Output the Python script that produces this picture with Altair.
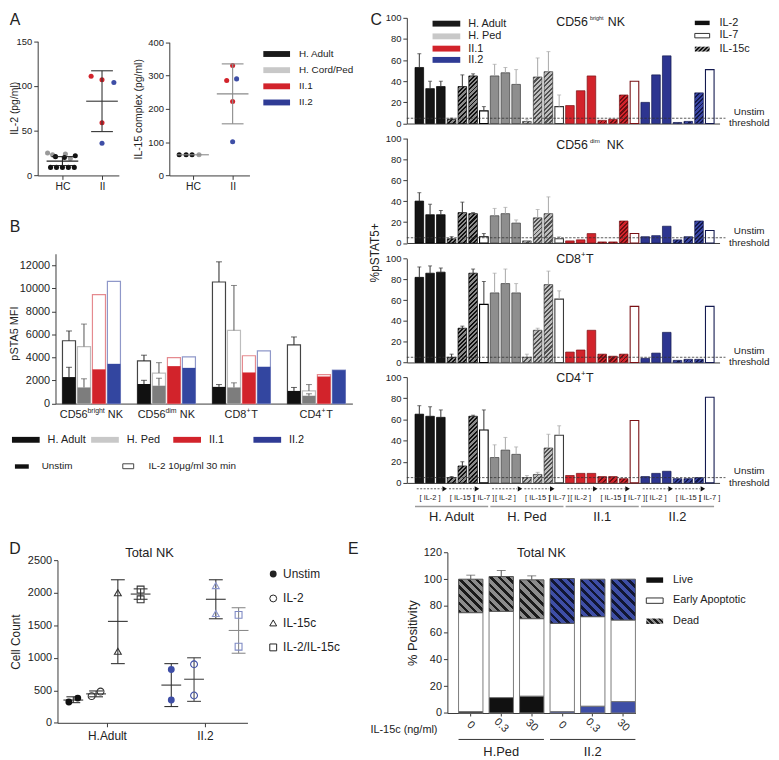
import altair as alt
import pandas as pd

FONT = "Liberation Sans"
W, H = 771, 752
INK = "#222222"
AX = "#3a3a3a"
YS = H / 760.0


def X(px):
    return px - 8


def Y(py):
    return py * YS


DUMMY = pd.DataFrame({"k": [0]})

# =========================== DATA ===========================
# ---- A : cytokine levels
A_IL2_HC_ADULT = [9, 9, 9, 9, 9, 21, 20, 22]
A_IL2_HC_PED = [25, 23, 24, 19]
A_IL2_II1 = [111, 107, 59]
A_IL2_II2 = [104, 36]
A_IL2_MEAN = [16, 83]
A_IL2_SD = [5, 34]

A_IL15_HC_ADULT = [62, 62, 62]
A_IL15_HC_PED = [62]
A_IL15_II1 = [330, 285, 222]
A_IL15_II2 = [290, 101]
A_IL15_MEAN = [62, 245]
A_IL15_SD = [0, 90]
A_LEGEND = ["H. Adult", "H. Cord/Ped", "II.1", "II.2"]

# ---- B : pSTA5 MFI
B_CELLS = ["CD56bright NK", "CD56dim NK", "CD8+T", "CD4+T"]
B_DONORS = ["H. Adult", "H. Ped", "II.1", "II.2"]
B_UNSTIM = {"H. Adult": [2300, 1700, 1450, 1100], "H. Ped": [1400, 1550, 1400, 680],
            "II.1": [2970, 3250, 2700, 2350], "II.2": [3450, 3100, 3200, 2900]}
B_IL2 = {"H. Adult": [5450, 3700, 10550, 5100], "H. Ped": [4950, 2650, 6350, 1100],
         "II.1": [9450, 3980, 4150, 2520], "II.2": [10600, 4050, 4580, 2900]}
B_IL2_ERR = {"H. Adult": [6300, 4200, 12300, 5780], "H. Ped": [6900, 3550, 10250, 1650]}
B_UNSTIM_ERR = {"H. Adult": [3150, 2020, 1650, 1400], "H. Ped": [2150, 2200, 1800, 850]}

# ---- C : %pSTAT5+
C_DONORS = ["H. Adult", "H. Ped", "II.1", "II.2"]
C_STIMS = ["IL-2", "IL-2", "IL-2", "IL-15", "IL-15", "IL-15", "IL-7"]
C_CD56BR = [53, 33, 35, 4, 35, 45, 12, 45, 48, 37, 2, 44, 49, 16,
            17, 31, 45, 3, 4, 27, 40, 20, 46, 64, 1, 2, 29, 51]
C_CD56BR_ERR = [66, 40, 40, 5, 46, 47, 16, 56, 53, 51, 4, 62, 68, 27]
C_CD56DIM = [40, 27, 27, 4, 29, 28, 6, 26, 28, 19, 2, 24, 28, 4,
             2, 3, 9, 1, 1, 21, 9, 6, 7, 16, 3, 6, 21, 12]
C_CD56DIM_ERR = [48, 37, 31, 6, 39, 29, 9, 33, 34, 22, 2, 32, 44, 6]
C_CD8 = [82, 86, 87, 5, 33, 86, 56, 67, 76, 67, 5, 31, 75, 61,
         10, 12, 31, 8, 6, 8, 54, 4, 9, 29, 2, 3, 3, 54]
C_CD8_ERR = [92, 93, 91, 8, 35, 90, 78, 86, 90, 76, 8, 33, 88, 69]
C_CD4 = [65, 63, 62, 5, 16, 63, 50, 24, 31, 27, 5, 8, 33, 45,
         7, 9, 9, 6, 6, 4, 59, 6, 9, 11, 4, 4, 5, 81]
C_CD4_ERR = [73, 72, 69, 6, 20, 64, 69, 36, 43, 34, 7, 10, 46, 54]
C_THRESHOLD = 5
C_BRACKETS = ["[ IL-2 ]", "[ IL-15 ]", "[ IL-7 ]"]

# ---- D : cell counts
D_GROUPS = ["H.Adult", "II.2"]
D_CONDS = ["Unstim", "IL-2", "IL-15c", "IL-2/IL-15c"]
D_ADULT = [[320, 380], [410, 480], [1100, 2000], [1900, 2050]]
D_II2 = [[350, 820], [420, 900], [1680, 2110], [1170, 1660]]
D_ADULT_MEAN = [350, 445, 1560, 1980]
D_ADULT_LO = [310, 400, 910, 1900]
D_ADULT_HI = [400, 490, 2200, 2060]
D_II2_MEAN = [580, 670, 1900, 1420]
D_II2_LO = [250, 330, 1600, 1070]
D_II2_HI = [910, 1000, 2200, 1770]

# ---- E : viability
E_DONORS = ["H.Ped", "II.2"]
E_DOSES = ["0", "0.3", "30"]
E_PED_LIVE = [1, 11.5, 12.5]
E_PED_EARLY_TOP = [75, 76, 70.5]
E_PED_DEAD_TOP = [100, 102, 99.5]
E_PED_ERR = [103, 106.5, 102.5]
E_II2_LIVE = [1, 5, 8.5]
E_II2_EARLY_TOP = [67, 72, 69.5]
E_II2_DEAD_TOP = [100.5, 100, 100]

# =========================== HELPERS ===========================
layers = []


def T(s, px, py, size=11, align="center", angle=0, color=INK, baseline="middle"):
    return alt.Chart(DUMMY).mark_text(text=s, font=FONT, fontSize=size, align=align, baseline=baseline,
                                      angle=angle, color=color).encode(x=alt.value(X(px)), y=alt.value(Y(py)))


def R(px0, px1, py0, py1, fill, stroke=None, sw=1.0):
    kw = {"fill": fill}
    if stroke:
        kw.update(stroke=stroke, strokeWidth=sw)
    else:
        kw.update(strokeWidth=0)
    return alt.Chart(DUMMY).mark_rect(**kw).encode(x=alt.value(X(px0)), x2=alt.value(X(px1)),
                                                  y=alt.value(Y(py0)), y2=alt.value(Y(py1)))


def hatch(ca, cb, w, h, period, frac=0.5, back=False):
    w = max(float(w), 1.0)
    h = max(float(h), 1.0)
    k = (w + h) / (w * w + h * h)
    n = max(1, int(round((w + h) / (1.4142 * period))))
    stops = []
    for i in range(n):
        o0, o1, o2 = i / n, (i + frac) / n, (i + 1) / n
        stops += [alt.GradientStop(color=ca, offset=o0), alt.GradientStop(color=ca, offset=o1),
                  alt.GradientStop(color=cb, offset=o1), alt.GradientStop(color=cb, offset=o2)]
    if back:
        return alt.LinearGradient(gradient="linear", stops=stops, x1=0, y1=1, x2=k * w, y2=1 - k * h)
    return alt.LinearGradient(gradient="linear", stops=stops, x1=0, y1=0, x2=k * w, y2=k * h)


def yax(at_px, values, size=11, title=None, tsize=11, tpad=4, tcx=None, tcy=None, fmt=None):
    d = dict(orient="left", offset=-X(at_px), values=values, title=title, labelFontSize=size,
             titleFontSize=tsize, titlePadding=tpad, tickSize=4, labelPadding=2)
    if tcx is not None:
        d.update(titleX=X(tcx) - X(at_px), titleY=Y(tcy), titleBaseline="middle", titleAlign="center")
    if fmt:
        d.update(format=fmt)
    return alt.Axis(**d)


def xax(at_py, **kw):
    d = dict(orient="bottom", offset=Y(at_py) - H, title=None, tickSize=4, labelPadding=2)
    d.update(kw)
    return alt.Axis(**d)


# =========================== PANEL A ===========================
def dot_panel(x0, x1, zero_py, top_py, ymax, yvals, ytitle, tpad, centers, labels, series, summaries,
              cap=11, half=16, tcx=None, tcy=None):
    xs = alt.Scale(domain=[0, x1 - x0], range=[X(x0), X(x1)], nice=False, zero=False)
    ys = alt.Scale(domain=[0, ymax], range=[Y(zero_py), Y(top_py)], nice=False)
    expr = f"datum.value == {centers[0]} ? '{labels[0]}' : '{labels[1]}'"
    xa = xax(zero_py, values=centers, labelExpr=expr, labelFontSize=10.5)
    ya = yax(x0, yvals, size=9.5, title=ytitle, tsize=10.5, tpad=tpad, tcx=tcx, tcy=tcy)
    subs = []
    for vals, jit, ci, col in series:
        df = pd.DataFrame({"x": [centers[ci] + j for j in jit], "v": vals})
        subs.append(alt.Chart(df).mark_circle(size=26, color=col, opacity=1).encode(
            x=alt.X("x:Q", scale=xs, axis=xa), y=alt.Y("v:Q", scale=ys, axis=ya)))
    for m, sd, ci, col in summaries:
        c = centers[ci]
        df = pd.DataFrame({"c": [c], "m": [m], "lo": [m - sd], "hi": [m + sd], "cl": [c - cap],
                           "cr": [c + cap], "ml": [c - half], "mr": [c + half]})
        b = alt.Chart(df)
        subs.append(b.mark_rule(color=col, strokeWidth=1.1).encode(
            x=alt.X("ml:Q", scale=xs, axis=xa), x2="mr:Q", y=alt.Y("m:Q", scale=ys, axis=ya)))
        if sd > 0:
            subs.append(b.mark_rule(color=col, strokeWidth=1.1).encode(
                x=alt.X("c:Q", scale=xs, axis=xa), y=alt.Y("lo:Q", scale=ys, axis=ya), y2="hi:Q"))
            for yy in ["lo", "hi"]:
                subs.append(b.mark_rule(color=col, strokeWidth=1.1).encode(
                    x=alt.X("cl:Q", scale=xs, axis=xa), x2="cr:Q", y=alt.Y(yy + ":Q", scale=ys, axis=ya)))
    return alt.layer(*subs)


RED = "#d2232b"
BLUE = "#2f3b95"
BLUE_PT = "#3e4ea6"

layers.append(dot_panel(
    38, 120, 167, 30, 150, [0, 50, 100, 150], "IL-2 (pg/ml)", 5, [25, 65], ["HC", "II"],
    [(A_IL2_HC_PED, [-15, -10, 3, 8], 0, "#9a9a9a"),
     (A_IL2_HC_ADULT, [-12, -6, 0, 6, 12, -7, 2, 13], 0, "#111111"),
     (A_IL2_II1, [-11, 0, 0], 1, RED),
     (A_IL2_II2, [12, 0], 1, BLUE_PT)],
    [(A_IL2_MEAN[0], A_IL2_SD[0], 0, "#222222"), (A_IL2_MEAN[1], A_IL2_SD[1], 1, "#333333")],
    tcx=15, tcy=98))

layers.append(dot_panel(
    171, 252, 167, 31, 400, [0, 100, 200, 300, 400], "IL-15 complex (pg/ml)", 4, [24, 64], ["HC", "II"],
    [(A_IL15_HC_ADULT, [-14, -7, -1], 0, "#111111"),
     (A_IL15_HC_PED, [6], 0, "#a0a0a0"),
     (A_IL15_II1, [0, -6, 0], 1, RED),
     (A_IL15_II2, [4, 0], 1, BLUE_PT)],
    [(A_IL15_MEAN[0], A_IL15_SD[0], 0, "#8a8a8a"), (A_IL15_MEAN[1], A_IL15_SD[1], 1, "#8a8a8a")]))

A_LEG_COLORS = ["#1a1a1a", "#c8c8c8", RED, BLUE]
for i, (lab, col) in enumerate(zip(A_LEGEND, A_LEG_COLORS)):
    yy = 43 + i * 16.5
    layers.append(R(266, 293, yy - 3, yy + 3, col))
    layers.append(T(lab, 302, yy, size=10, align="left"))

# =========================== PANEL B ===========================
bxs = alt.Scale(domain=B_CELLS, range=[X(56), X(356)], paddingInner=0.227, paddingOuter=0.093)
bxo = alt.Scale(domain=B_DONORS, paddingInner=0.13, paddingOuter=0)
bys = alt.Scale(domain=[0, 13000], range=[Y(400), Y(247)], nice=False)
bxa = xax(400, labels=False, ticks=False)
bya = yax(56, list(range(0, 12001, 2000)), size=11, title="pSTA5 MFI", tsize=11, tcx=15, tcy=328, fmt="d")
B_FILL = ["#111111", "#7d7d7d", RED, "#3346a0"]
B_EDGE = ["#444444", "#bdbdbd", "#e58a8f", "#8f98c9"]
B_ERRC = ["#222222", "#555555"]

rows = []
for d in B_DONORS:
    for ci, c in enumerate(B_CELLS):
        rows.append({"cell": c, "donor": d, "unstim": B_UNSTIM[d][ci], "il2": B_IL2[d][ci],
                     "il2_err": B_IL2_ERR[d][ci] if d in B_IL2_ERR else None,
                     "un_err": B_UNSTIM_ERR[d][ci] if d in B_UNSTIM_ERR else None})
bdf = pd.DataFrame(rows)
bx = alt.X("cell:N", scale=bxs, axis=bxa)
bo = alt.XOffset("donor:N", scale=bxo)
bsub = [
    alt.Chart(bdf).mark_bar(fill="white", strokeWidth=1.2).encode(
        x=bx, xOffset=bo, y=alt.Y("il2:Q", scale=bys, axis=bya),
        stroke=alt.Stroke("donor:N", scale=alt.Scale(domain=B_DONORS, range=B_EDGE), legend=None)),
    alt.Chart(bdf).mark_bar(strokeWidth=0).encode(
        x=bx, xOffset=bo, y=alt.Y("unstim:Q", scale=bys, axis=bya),
        fill=alt.Fill("donor:N", scale=alt.Scale(domain=B_DONORS, range=B_FILL), legend=None)),
]
edf = bdf.dropna(subset=["il2_err"])
for lo, hi in [("il2", "il2_err"), ("unstim", "un_err")]:
    bsub.append(alt.Chart(edf).mark_rule(strokeWidth=1).encode(
        x=bx, xOffset=bo, y=alt.Y(lo + ":Q", scale=bys, axis=bya), y2=hi + ":Q",
        color=alt.Color("donor:N", scale=alt.Scale(domain=B_DONORS[:2], range=B_ERRC), legend=None)))
    bsub.append(alt.Chart(edf).mark_tick(size=6, thickness=1).encode(
        x=bx, xOffset=bo, y=alt.Y(hi + ":Q", scale=bys, axis=bya),
        color=alt.Color("donor:N", scale=alt.Scale(domain=B_DONORS[:2], range=B_ERRC), legend=None)))
B_LABEL_PARTS = [
    ("CD56bright NK", [("CD56", -32, 11, 0), ("bright", -4, 7, -4), ("NK", 16.5, 11, 0)]),
    ("CD56dim NK", [("CD56", -29, 11, 0), ("dim", -1, 7, -4), ("NK", 13.5, 11, 0)]),
    ("CD8+T", [("CD8", -17, 11, 0), ("+", 5, 7, -4), ("T", 10, 11, 0)]),
    ("CD4+T", [("CD4", -17, 11, 0), ("+", 5, 7, -4), ("T", 10, 11, 0)]),
]
for cell, parts in B_LABEL_PARTS:
    for txt, dx, fs, dy in parts:
        bsub.append(alt.Chart(pd.DataFrame({"cell": [cell]})).mark_text(
            text=txt, font=FONT, fontSize=fs, align="left", baseline="middle", dx=dx, color=INK).encode(
            x=alt.X("cell:N", scale=bxs, axis=bxa), y=alt.value(Y(412) + dy)))
layers.append(alt.layer(*bsub))

B_LEG = [("H. Adult", 12, 40, 48, "#111111"), ("H. Ped", 92, 120, 128, "#c8c8c8"),
         ("II.1", 175, 203, 211, RED), ("II.2", 256, 284, 292, BLUE)]
for lab, a, b, tx, col in B_LEG:
    layers.append(R(a, b, 434, 440, col))
    layers.append(T(lab, tx, 437, size=11, align="left"))
layers.append(R(15, 29, 462, 466.5, "#111111"))
layers.append(T("Unstim", 42, 464, size=10, align="left"))
layers.append(R(124, 135, 461.5, 466.5, "white", "#444444", 1))
layers.append(T("IL-2 10μg/ml 30 min", 150, 464, size=10, align="left"))

# =========================== PANEL C ===========================
C_IDS = [f"b{i:02d}" for i in range(28)]
cxs = alt.Scale(domain=C_IDS, range=[X(411), X(727)], paddingInner=0.2, paddingOuter=0.635, align=0.6)
C_SOLID = ["#151515", "#8e8e8e", RED, "#2d3590"]
C_SOLID_EDGE = ["#000000", "#3a3a3a", "#7a1115", "#141a50"]
C_WHITE_EDGE = ["#4a4a4a", "#c4c4c4", "#e8959a", "#a0a6d0"]
C_HATCH = [("#101010", "#8a8a8a"), ("#505050", "#bdbdbd"), ("#6a0f12", "#d2232b"), ("#12184a", "#3a46a5")]
C_ERRC = ["#333333", "#a8a8a8"]
C_PANELS = [(C_CD56BR, C_CD56BR_ERR, 114, 6), (C_CD56DIM, C_CD56DIM_ERR, 236, 129),
            (C_CD8, C_CD8_ERR, 358, 252), (C_CD4, C_CD4_ERR, 481, 373)]
BAR_W = 8.7

for pi, (vals, errs, zero_py, top_py) in enumerate(C_PANELS):
    cys = alt.Scale(domain=[0, 100], range=[Y(zero_py), Y(top_py)], nice=False)
    cxa = xax(zero_py, labels=False, ticks=False)
    cya = yax(411, [0, 20, 40, 60, 80, 100], size=9.5)
    cx = alt.X("bar:N", scale=cxs, axis=cxa)
    px_per = (Y(zero_py) - Y(top_py)) / 100.0
    recs = []
    for i, v in enumerate(vals):
        recs.append({"bar": C_IDS[i], "donor": C_DONORS[i // 7], "stim": C_STIMS[i % 7], "val": v,
                     "err": errs[i] if i < len(errs) else None})
    df = pd.DataFrame(recs)
    sub = []
    sub.append(alt.Chart(df[df.stim == "IL-2"]).mark_bar(strokeWidth=0.7).encode(
        x=cx, y=alt.Y("val:Q", scale=cys, axis=cya),
        fill=alt.Fill("donor:N", scale=alt.Scale(domain=C_DONORS, range=C_SOLID), legend=None),
        stroke=alt.Stroke("donor:N", scale=alt.Scale(domain=C_DONORS, range=C_SOLID_EDGE), legend=None)))
    sub.append(alt.Chart(df[df.stim == "IL-7"]).mark_bar(fill="white", strokeWidth=1.1).encode(
        x=cx, y=alt.Y("val:Q", scale=cys, axis=cya),
        stroke=alt.Stroke("donor:N", scale=alt.Scale(domain=C_DONORS, range=C_WHITE_EDGE), legend=None)))
    for _, r in df[df.stim == "IL-15"].iterrows():
        gi = C_DONORS.index(r["donor"])
        ca, cb = C_HATCH[gi]
        g = hatch(ca, cb, BAR_W, r["val"] * px_per, 3.2, 0.45)
        sub.append(alt.Chart(pd.DataFrame([r.to_dict()])).mark_bar(
            fill=g, stroke=C_SOLID_EDGE[gi], strokeWidth=0.7).encode(
            x=cx, y=alt.Y("val:Q", scale=cys, axis=cya)))
    edf = df.dropna(subset=["err"])
    sub.append(alt.Chart(edf).mark_rule(strokeWidth=1).encode(
        x=cx, y=alt.Y("val:Q", scale=cys, axis=cya), y2="err:Q",
        color=alt.Color("donor:N", scale=alt.Scale(domain=C_DONORS[:2], range=C_ERRC), legend=None)))
    sub.append(alt.Chart(edf).mark_tick(size=4, thickness=1).encode(
        x=cx, y=alt.Y("err:Q", scale=cys, axis=cya),
        color=alt.Color("donor:N", scale=alt.Scale(domain=C_DONORS[:2], range=C_ERRC), legend=None)))
    sub.append(alt.Chart(pd.DataFrame({"thr": [C_THRESHOLD]})).mark_rule(
        color="#333333", strokeWidth=0.8, strokeDash=[2.5, 1.5]).encode(
        x=alt.value(X(411)), x2=alt.value(X(733)), y=alt.Y("thr:Q", scale=cys, axis=cya)))
    if pi == 3:
        arr = []
        for g in range(4):
            arr.append({"s": C_IDS[7 * g], "e": C_IDS[7 * g + 2]})
            arr.append({"s": C_IDS[7 * g + 3], "e": C_IDS[7 * g + 5]})
        adf = pd.DataFrame(arr)
        sub.append(alt.Chart(adf).mark_rule(color="#333333", strokeWidth=0.8, strokeDash=[2, 1.5]).encode(
            x=alt.X("s:N", scale=cxs, axis=cxa, bandPosition=0.2), x2=alt.X2("e:N", bandPosition=0.6),
            y=alt.value(Y(487))))
        sub.append(alt.Chart(adf).mark_point(shape="triangle-right", filled=True, size=28, color="#111111",
                                             opacity=1).encode(
            x=alt.X("e:N", scale=cxs, axis=cxa, bandPosition=0.95), y=alt.value(Y(487))))
        br = []
        for g in range(4):
            for k, off in enumerate([1, 4, 6]):
                br.append({"bar": C_IDS[7 * g + off], "t": C_BRACKETS[k]})
        sub.append(alt.Chart(pd.DataFrame(br)).mark_text(font=FONT, fontSize=7.5, color=INK).encode(
            x=cx, y=alt.value(Y(496)), text="t:N"))
        gl = pd.DataFrame({"s": [C_IDS[7 * g] for g in range(4)], "e": [C_IDS[7 * g + 6] for g in range(4)],
                           "bar": [C_IDS[7 * g + 3] for g in range(4)], "t": C_DONORS})
        sub.append(alt.Chart(gl).mark_rule(color="#9a9a9a", strokeWidth=1.5).encode(
            x=alt.X("s:N", scale=cxs, axis=cxa, bandPosition=0), x2=alt.X2("e:N", bandPosition=1),
            y=alt.value(Y(505))))
        sub.append(alt.Chart(gl).mark_text(font=FONT, fontSize=13, color=INK).encode(
            x=cx, y=alt.value(Y(516)), text="t:N"))
    layers.append(alt.layer(*sub))
    layers.append(T("Unstim", 757, zero_py - 12, size=10))
    layers.append(T("threshold", 757, zero_py, size=10))

C_TITLES = [("CD56", "bright", "NK", 10, 596, 614, 5.5), ("CD56", "dim", "NK", 136, 596, 613, 6.2),
            ("CD8", "+", "T", 252, 587, 592, 8), ("CD4", "+", "T", 374, 587, 592, 8)]
for main, sup, tail, yy, xs_, xt, fs in C_TITLES:
    layers.append(T(main, 562, yy, size=12.5, align="left"))
    layers.append(T(sup, xs_, yy - 4, size=fs, align="left"))
    layers.append(T(tail, xt, yy, size=12.5, align="left"))
layers.append(T("%pSTAT5+", 379, 246, size=12, angle=270))

C_LEG_COLORS = ["#1a1a1a", "#c8c8c8", RED, BLUE]
for i, (lab, col) in enumerate(zip(C_DONORS, C_LEG_COLORS)):
    yy = [12, 25, 37.5, 49][i]
    layers.append(R(437, 465, yy - 3, yy + 3, col))
    layers.append(T(lab, 473, yy, size=11, align="left"))
layers.append(R(702, 717, 9, 13.5, "#111111"))
layers.append(T("IL-2", 727, 11, size=11, align="left"))
layers.append(R(702, 717, 22, 26.5, "white", "#333333", 1))
layers.append(T("IL-7", 727, 24, size=11, align="left"))
layers.append(alt.Chart(DUMMY).mark_rect(fill=hatch("#111111", "#8a8a8a", 15, 5, 3), strokeWidth=0).encode(
    x=alt.value(X(702)), x2=alt.value(X(717)), y=alt.value(Y(35.5)), y2=alt.value(Y(40.5))))
layers.append(T("IL-15c", 727, 38, size=11, align="left"))

# =========================== PANEL D ===========================
dxs = alt.Scale(domain=[0, 192], range=[X(58), X(250)], nice=False, zero=False)
dys = alt.Scale(domain=[0, 2500], range=[Y(726), Y(560)], nice=False)
dxa = xax(726, values=[50, 149], labelExpr="datum.value == 50 ? 'H.Adult' : 'II.2'", labelFontSize=12,
          labelPadding=4)
dya = yax(58, [0, 500, 1000, 1500, 2000, 2500], size=11, title="Cell Count", tsize=12, tcx=16, tcy=643,
          fmt="d")
D_CENTERS = [50, 149]
D_OFFS = [-34, -11, 11, 34]
D_SHAPES = ["circle", "circle", "triangle-up", "square"]
D_PT_COL = [["#111111", "#333333", "#333333", "#333333"], [BLUE_PT, BLUE_PT, "#8c96cc", "#7f8ac4"]]
D_ERR_COL = [["#333333"] * 4, ["#333333", "#444444", "#333333", "#8a8a8a"]]
D_JIT = [[[-4.5, 4.5], [-4.5, 4.5], [0, 0], [0, 0]], [[0, 0]] * 4]
dsub = []
for gi, (pts, means, los, his) in enumerate([(D_ADULT, D_ADULT_MEAN, D_ADULT_LO, D_ADULT_HI),
                                              (D_II2, D_II2_MEAN, D_II2_LO, D_II2_HI)]):
    for ci in range(4):
        c = D_CENTERS[gi] + D_OFFS[ci]
        col = D_ERR_COL[gi][ci]
        sdf = pd.DataFrame({"c": [c], "m": [means[ci]], "lo": [los[ci]], "hi": [his[ci]],
                            "cl": [c - 7], "cr": [c + 7], "ml": [c - 10], "mr": [c + 10]})
        b = alt.Chart(sdf)
        dsub.append(b.mark_rule(color=col, strokeWidth=1.1).encode(
            x=alt.X("c:Q", scale=dxs, axis=dxa), y=alt.Y("lo:Q", scale=dys, axis=dya), y2="hi:Q"))
        for yy in ["lo", "hi"]:
            dsub.append(b.mark_rule(color=col, strokeWidth=1.1).encode(
                x=alt.X("cl:Q", scale=dxs, axis=dxa), x2="cr:Q", y=alt.Y(yy + ":Q", scale=dys, axis=dya)))
        dsub.append(b.mark_rule(color=col, strokeWidth=1.1).encode(
            x=alt.X("ml:Q", scale=dxs, axis=dxa), x2="mr:Q", y=alt.Y("m:Q", scale=dys, axis=dya)))
for gi, pts in enumerate([D_ADULT, D_II2]):
    for ci in range(4):
        c = D_CENTERS[gi] + D_OFFS[ci]
        pdf = pd.DataFrame({"x": [c + j for j in D_JIT[gi][ci]], "v": pts[ci]})
        dsub.append(alt.Chart(pdf).mark_point(shape=D_SHAPES[ci], filled=(ci == 0), size=48, strokeWidth=1.1,
                                              color=D_PT_COL[gi][ci], opacity=1).encode(
            x=alt.X("x:Q", scale=dxs, axis=dxa), y=alt.Y("v:Q", scale=dys, axis=dya)))
layers.append(alt.layer(*dsub))
layers.append(T("Total NK", 151, 553, size=13))
for i, lab in enumerate(D_CONDS):
    yy = 574 + 25 * i
    layers.append(alt.Chart(DUMMY).mark_point(shape=D_SHAPES[i], filled=(i == 0), size=48, strokeWidth=1,
                                              color="#222222", opacity=1).encode(
        x=alt.value(X(276)), y=alt.value(Y(yy))))
    layers.append(T(lab, 286, yy, size=12, align="left"))

# =========================== PANEL E ===========================
E_IDS = [f"{d} {s}" for d in E_DONORS for s in E_DOSES]
exs = alt.Scale(domain=E_IDS, range=[X(452), X(642)], paddingInner=0.2, paddingOuter=0.183, align=1)
eys = alt.Scale(domain=[0, 120], range=[Y(716), Y(552)], nice=False)
exa = xax(716, labelExpr="split(datum.value, ' ')[1]", labelAngle=45, labelAlign="center",
          labelBaseline="middle", labelPadding=9, labelFontSize=11, tickSize=3)
eya = yax(452, [0, 20, 40, 60, 80, 100, 120], size=11, title="% Positivity", tsize=13, tpad=4)
ex = alt.X("bar:N", scale=exs, axis=exa)
E_LIVE_COL = ["#111111", BLUE_PT]
E_HATCH = [("#1a1a1a", "#8c8c8c"), ("#111633", "#3e4ea6")]
erows = []
for di, (live, early, dead) in enumerate([(E_PED_LIVE, E_PED_EARLY_TOP, E_PED_DEAD_TOP),
                                           (E_II2_LIVE, E_II2_EARLY_TOP, E_II2_DEAD_TOP)]):
    for si in range(3):
        erows.append({"bar": E_IDS[di * 3 + si], "donor": E_DONORS[di], "live": live[si],
                      "early": early[si], "dead": dead[si]})
edf_all = pd.DataFrame(erows)
e_px = (Y(716) - Y(552)) / 120.0
esub = [
    alt.Chart(edf_all).mark_bar(fill="white", stroke="#7a7a7a", strokeWidth=1).encode(
        x=ex, y=alt.Y("live:Q", scale=eys, axis=eya), y2="early:Q"),
    alt.Chart(edf_all).mark_bar(stroke="#7a7a7a", strokeWidth=1).encode(
        x=ex, y=alt.Y("live:Q", scale=eys, axis=eya),
        fill=alt.Fill("donor:N", scale=alt.Scale(domain=E_DONORS, range=E_LIVE_COL), legend=None)),
]
for _, r in edf_all.iterrows():
    di = E_DONORS.index(r["donor"])
    g = hatch(E_HATCH[di][0], E_HATCH[di][1], 24.7, (r["dead"] - r["early"]) * e_px, 6.3, 0.42, back=True)
    esub.append(alt.Chart(pd.DataFrame([r.to_dict()])).mark_bar(fill=g, stroke="#555555", strokeWidth=1).encode(
        x=ex, y=alt.Y("early:Q", scale=eys, axis=eya), y2="dead:Q"))
errdf = pd.DataFrame({"bar": E_IDS[:3], "top": E_PED_DEAD_TOP, "err": E_PED_ERR})
esub.append(alt.Chart(errdf).mark_rule(color="#555555", strokeWidth=1).encode(
    x=ex, y=alt.Y("top:Q", scale=eys, axis=eya), y2="err:Q"))
esub.append(alt.Chart(errdf).mark_tick(color="#555555", size=9, thickness=1).encode(
    x=ex, y=alt.Y("err:Q", scale=eys, axis=eya)))
egl = pd.DataFrame({"s": [E_IDS[0], E_IDS[3]], "e": [E_IDS[2], E_IDS[5]], "bar": [E_IDS[1], E_IDS[4]],
                    "t": E_DONORS})
esub.append(alt.Chart(egl).mark_rule(color="#333333", strokeWidth=1).encode(
    x=alt.X("s:N", scale=exs, axis=exa, bandPosition=0), x2=alt.X2("e:N", bandPosition=1),
    y=alt.value(Y(743))))
esub.append(alt.Chart(egl).mark_text(font=FONT, fontSize=13, color=INK).encode(
    x=ex, y=alt.value(Y(756)), text="t:N"))
layers.append(alt.layer(*esub))
layers.append(T("Total NK", 547, 553, size=13))
layers.append(T("IL-15c (ng/ml)", 442, 733, size=11, align="right"))
layers.append(R(653, 670, 577.5, 583, "#111111"))
layers.append(T("Live", 680, 580, size=11, align="left"))
layers.append(R(653, 670, 598.5, 604, "white", "#333333", 1))
layers.append(T("Early Apoptotic", 680, 601, size=11, align="left"))
layers.append(alt.Chart(DUMMY).mark_rect(fill=hatch("#1a1a1a", "#8c8c8c", 17, 5.5, 4, back=True),
                                         strokeWidth=0).encode(
    x=alt.value(X(653)), x2=alt.value(X(670)), y=alt.value(Y(619.5)), y2=alt.value(Y(625))))
layers.append(T("Dead", 680, 622, size=11, align="left"))

# =========================== PANEL LETTERS ===========================
for lab, px, py in [("A", 15, 8), ("B", 15, 220), ("C", 380, 8), ("D", 15, 549), ("E", 357, 549)]:
    layers.append(T(lab, px, py, size=16))

chart = alt.layer(*layers).resolve_scale(
    x="independent", y="independent", xOffset="independent", color="independent",
    fill="independent", stroke="independent"
).resolve_axis(x="independent", y="independent").properties(
    width=W, height=H, padding=0, autosize=alt.AutoSizeParams(type="none")
).configure_view(strokeWidth=0).configure_axis(
    grid=False, domainColor=AX, tickColor=AX, labelColor=INK, titleColor=INK, labelFont=FONT,
    titleFont=FONT, titleFontWeight="normal", domainWidth=1, tickWidth=1
)

chart.save("out.html", embed_options={"renderer": "svg", "actions": False})
